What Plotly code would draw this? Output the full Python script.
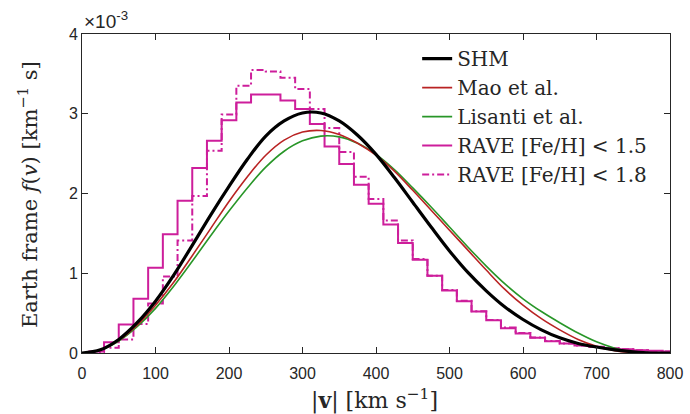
import plotly.graph_objects as go

# ---- data (values in units of 1e-3 km^-1 s) ----
v_curve = [0, 25, 50, 75, 100, 125, 150, 175, 200, 225, 250, 275, 300, 325, 350, 375, 400,
           425, 450, 475, 500, 525, 550, 575, 600, 625, 650, 675, 700, 725, 750, 775, 800]
shm = [0, 0.04, 0.17, 0.38, 0.65, 0.98, 1.35, 1.73, 2.09, 2.43, 2.72, 2.91, 3.01, 3.01, 2.91, 2.73, 2.49,
       2.20, 1.89, 1.58, 1.28, 1.01, 0.78, 0.58, 0.42, 0.29, 0.19, 0.12, 0.075, 0.04, 0.015, 0.0, 0.0]
mao = [0, 0.04, 0.16, 0.35, 0.60, 0.89, 1.22, 1.56, 1.90, 2.21, 2.48, 2.67, 2.77, 2.79, 2.74, 2.63, 2.48,
       2.28, 2.04, 1.79, 1.54, 1.29, 1.04, 0.80, 0.60, 0.43, 0.29, 0.17, 0.085, 0.03, 0.005, 0.0, 0.0]
lisanti = [0, 0.035, 0.15, 0.33, 0.56, 0.84, 1.15, 1.47, 1.78, 2.07, 2.33, 2.53, 2.66, 2.72, 2.71, 2.63, 2.49,
           2.30, 2.07, 1.83, 1.58, 1.33, 1.09, 0.87, 0.68, 0.52, 0.38, 0.25, 0.14, 0.06, 0.01, 0.0, 0.0]

bin_centers = [0, 20, 40, 60, 80, 100, 120, 140, 160, 180, 200, 220, 240, 260, 280, 300, 320, 340, 360, 380,
               400, 420, 440, 460, 480, 500, 520, 540, 560, 580, 600, 620, 640, 660, 680, 700, 720, 740, 760, 780, 800]
rave15 = [0.0, 0.02, 0.135, 0.356, 0.68, 1.07, 1.49, 1.91, 2.32, 2.66, 2.92, 3.14, 3.24, 3.24, 3.165, 3.06, 2.87,
          2.59, 2.37, 2.11, 1.87, 1.61, 1.38, 1.17, 0.97, 0.785, 0.65, 0.52, 0.41, 0.31, 0.245, 0.19, 0.148,
          0.12, 0.094, 0.077, 0.06, 0.048, 0.035, 0.027, 0.02]
rave18 = [0.0, 0.01, 0.065, 0.17, 0.365, 0.62, 0.96, 1.41, 1.97, 2.535, 2.99, 3.35, 3.55, 3.53, 3.45, 3.31, 3.06,
          2.82, 2.52, 2.21, 1.93, 1.66, 1.41, 1.18, 0.97, 0.79, 0.655, 0.525, 0.415, 0.32, 0.25, 0.195, 0.15,
          0.12, 0.095, 0.075, 0.058, 0.046, 0.034, 0.026, 0.02]
bin_width = 20

x_ticks = [0, 100, 200, 300, 400, 500, 600, 700, 800]
y_ticks = [0, 1, 2, 3, 4]

# ---- styles ----
MAG = "rgb(205,30,155)"
RED = "rgb(185,35,35)"
GRN = "rgb(40,150,40)"
AX = "#262626"
SERIF = "DejaVu Serif"
SANS = "Liberation Sans"

edges = [c - bin_width / 2 for c in bin_centers] + [bin_centers[-1] + bin_width / 2]

fig = go.Figure()
fig.add_trace(go.Scatter(x=edges, y=rave15 + [rave15[-1]], mode="lines", line=dict(shape="hv", color=MAG, width=2),
                         name="RAVE [Fe/H] &lt; 1.5", legendrank=4))
fig.add_trace(go.Scatter(x=edges, y=rave18 + [rave18[-1]], mode="lines",
                         line=dict(shape="hv", color=MAG, width=2, dash="7px,3px,2px,3px"),
                         name="RAVE [Fe/H] &lt; 1.8", legendrank=5))
fig.add_trace(go.Scatter(x=v_curve, y=lisanti, mode="lines", line=dict(shape="spline", smoothing=1.0, color=GRN, width=1.6),
                         name="Lisanti et al.", legendrank=3))
fig.add_trace(go.Scatter(x=v_curve, y=mao, mode="lines", line=dict(shape="spline", smoothing=1.0, color=RED, width=1.6),
                         name="Mao et al.", legendrank=2))
fig.add_trace(go.Scatter(x=v_curve, y=shm, mode="lines", line=dict(shape="spline", smoothing=1.0, color="black", width=3.2),
                         name="SHM", legendrank=1))

axis_common = dict(showline=True, linecolor=AX, linewidth=1, mirror="ticks", ticks="inside", ticklen=6,
                   tickcolor=AX, tickwidth=1, showgrid=False, zeroline=False, automargin=False,
                   tickfont=dict(family=SANS, size=16, color=AX))

fig.update_layout(
    width=690, height=414,
    margin=dict(l=82, r=20, t=34, b=61),
    paper_bgcolor="white", plot_bgcolor="white",
    xaxis=dict(range=[0, 800], tickvals=x_ticks, ticktext=[str(t) for t in x_ticks], ticklabelstandoff=6,
               **axis_common),
    yaxis=dict(range=[0, 4], tickvals=y_ticks, ticktext=[str(t) for t in y_ticks],
               **axis_common),
    legend=dict(x=0.570, y=0.984, xanchor="left", yanchor="top", bgcolor="rgba(0,0,0,0)",
                font=dict(family=SERIF, size=20, color=AX), itemwidth=30, tracegroupgap=0),
    showlegend=True,
)
fig.add_annotation(text="×10<sup>-3</sup>", xref="paper", yref="paper", x=0, y=1.0, xanchor="left", yanchor="bottom",
                   showarrow=False, font=dict(family=SANS, size=19, color=AX), yshift=0)
fig.add_annotation(text="|<b>v</b>| [km s<sup>−1</sup>]", xref="paper", yref="paper", x=0.498, y=-0.147,
                   xanchor="center", yanchor="middle", showarrow=False,
                   font=dict(family=SERIF, size=22, color=AX))
fig.add_annotation(text="Earth frame <i>f</i>(<i>v</i>) [km<sup>−1</sup> s]", xref="paper", yref="paper",
                   x=-0.0918, y=0.495, xanchor="center", yanchor="middle", textangle=-90, showarrow=False,
                   font=dict(family=SERIF, size=21, color=AX))

fig.write_html("out.html")
